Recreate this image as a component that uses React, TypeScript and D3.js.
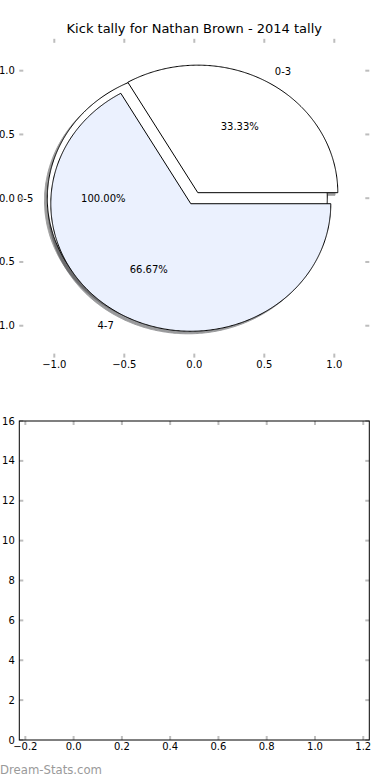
import React from "react";
import * as d3 from "d3";

// ---- data ----
const titleText = "Kick tally for Nathan Brown - 2014 tally";
const outerLabels = ["0-5"];
const outerValues = [1];
const outerColors = ["#ffffff"];
const outerExplode = [0.05];
const innerLabels = ["0-3", "4-7"];
const innerValues = [1, 2];
const innerColors = ["#ffffff", "#ebf1fe"];
const innerExplode = [0.05, 0.05];
const pieTicks = [-1, -0.5, 0, 0.5, 1];
const barXTicks = [-0.2, 0, 0.2, 0.4, 0.6, 0.8, 1.0, 1.2];
const barYTicks = [0, 2, 4, 6, 8, 10, 12, 14, 16];
const watermark = "Dream-Stats.com";

const FONT = "'DejaVu Sans', sans-serif";
const TICK_COLOR = "#bdbdbd";

const fmtTick = (v: number, digits: number) => {
  const s = Math.abs(v).toFixed(digits);
  return (v < 0 ? "\u2212" : "") + s;
};

type Wedge = {
  label: string;
  frac: number;
  t1: number;
  t2: number;
  cx: number;
  cy: number;
  color: string;
  full: boolean;
};

function buildWedges(labels: string[], values: number[], colors: string[], explode: number[]): Wedge[] {
  const total = d3.sum(values);
  const arcs = d3.pie<number>().sort(null).value((d) => d)(values);
  return arcs.map((a, i) => {
    const t1 = a.startAngle;
    const t2 = a.endAngle;
    const tm = (t1 + t2) / 2;
    return {
      label: labels[i],
      frac: values[i] / total,
      t1,
      t2,
      cx: explode[i] * Math.cos(tm),
      cy: explode[i] * Math.sin(tm),
      color: colors[i],
      full: Math.abs(t2 - t1 - 2 * Math.PI) < 1e-9,
    };
  });
}

export default function App() {
  const W = 390;
  const H = 780;

  // pie axes
  const sx = d3.scaleLinear().domain([-1.25, 1.25]).range([19.3, 369.3]);
  const sy = d3.scaleLinear().domain([-1.25, 1.25]).range([357.6, 38.8]);
  // empty bar axes
  const bx = d3.scaleLinear().domain([-0.225, 1.225]).range([19.3, 369.3]);
  const by = d3.scaleLinear().domain([0, 16]).range([740, 421]);

  const wedges = [
    ...buildWedges(outerLabels, outerValues, outerColors, outerExplode),
    ...buildWedges(innerLabels, innerValues, innerColors, innerExplode),
  ];

  const line = d3
    .line<[number, number]>()
    .x((d) => sx(d[0]))
    .y((d) => sy(d[1]));

  const wedgePath = (w: Wedge, ox = 0, oy = 0) => {
    const r = 1;
    const n = Math.max(8, Math.ceil(((w.t2 - w.t1) / (2 * Math.PI)) * 720));
    const pts: [number, number][] = [];
    const cx = w.cx + ox;
    const cy = w.cy + oy;
    if (!w.full) pts.push([cx, cy]);
    for (let i = 0; i <= n; i++) {
      const t = w.t1 + ((w.t2 - w.t1) * i) / n;
      pts.push([cx + r * Math.cos(t), cy + r * Math.sin(t)]);
    }
    return (line(pts) || "") + "Z";
  };

  const shadowColor = (c: string) => {
    const rgb = d3.rgb(c);
    return d3.rgb(rgb.r * 0.3, rgb.g * 0.3, rgb.b * 0.3).formatHex();
  };

  const labelDist = 1.1;
  const pctDist = 0.6;

  const pieFrame = { x0: sx(-1.25), x1: sx(1.25), y0: sy(1.25), y1: sy(-1.25) };
  const barFrame = { x0: bx(-0.225), x1: bx(1.225), y0: by(16), y1: by(0) };
  const TL = 4;

  return (
    <svg
      width={W}
      height={H}
      viewBox={`0 0 ${W} ${H}`}
      style={{ position: "absolute", left: 0, top: 0, background: "#fff" }}
      fontFamily={FONT}
    >
      <rect x={0} y={0} width={W} height={H} fill="#fff" />
      {/* title */}
      <text x={sx(0)} y={33} textAnchor="middle" fontSize={13} fill="#000">
        {titleText}
      </text>

      {/* shadows */}
      {wedges.map((w, i) => (
        <path
          key={"s" + i}
          d={wedgePath(w, -0.02, -0.02)}
          fill={shadowColor(w.color)}
          stroke={shadowColor(w.color)}
          strokeWidth={1}
          opacity={0.55}
        />
      ))}
      {/* wedges */}
      {wedges.map((w, i) => (
        <path key={"w" + i} d={wedgePath(w)} fill={w.color} stroke="#000" strokeWidth={1} strokeLinejoin="miter" />
      ))}
      {/* labels */}
      {wedges.map((w, i) => {
        const tm = (w.t1 + w.t2) / 2;
        const xt = w.cx + labelDist * Math.cos(tm);
        const yt = w.cy + labelDist * Math.sin(tm);
        const xp = w.cx + pctDist * Math.cos(tm);
        const yp = w.cy + pctDist * Math.sin(tm);
        return (
          <g key={"l" + i} fontSize={10} fill="#000">
            <text x={sx(xt)} y={sy(yt)} dy="0.35em" textAnchor={xt > 0 ? "start" : "end"}>
              {w.label}
            </text>
            <text x={sx(xp)} y={sy(yp)} dy="0.35em" textAnchor="middle">
              {d3.format(".2f")(w.frac * 100) + "%"}
            </text>
          </g>
        );
      })}

      {/* pie axes ticks (no frame) */}
      <g stroke={TICK_COLOR} strokeWidth={2}>
        {pieTicks.map((t, i) => (
          <g key={"pt" + i}>
            <line x1={sx(t)} x2={sx(t)} y1={pieFrame.y1} y2={pieFrame.y1 - TL} />
            <line x1={sx(t)} x2={sx(t)} y1={pieFrame.y0} y2={pieFrame.y0 + TL} />
            <line x1={pieFrame.x0} x2={pieFrame.x0 + TL} y1={sy(t)} y2={sy(t)} />
            <line x1={pieFrame.x1} x2={pieFrame.x1 - TL} y1={sy(t)} y2={sy(t)} />
          </g>
        ))}
      </g>
      <g fontSize={10} fill="#000">
        {pieTicks.map((t, i) => (
          <text key={"px" + i} x={sx(t)} y={pieFrame.y1 + 10} textAnchor="middle">
            {fmtTick(t, 1)}
          </text>
        ))}
        {pieTicks.map((t, i) => (
          <text key={"py" + i} x={pieFrame.x0 - 4.5} y={sy(t)} dy="0.35em" textAnchor="end">
            {fmtTick(t, 1)}
          </text>
        ))}
      </g>

      {/* empty axes */}
      <g stroke={TICK_COLOR} strokeWidth={2}>
        {barXTicks.map((t, i) => (
          <g key={"bt" + i}>
            <line x1={bx(t)} x2={bx(t)} y1={barFrame.y1} y2={barFrame.y1 - TL} />
            <line x1={bx(t)} x2={bx(t)} y1={barFrame.y0} y2={barFrame.y0 + TL} />
          </g>
        ))}
        {barYTicks.map((t, i) => (
          <g key={"by" + i}>
            <line x1={barFrame.x0} x2={barFrame.x0 + TL} y1={by(t)} y2={by(t)} />
            <line x1={barFrame.x1} x2={barFrame.x1 - TL} y1={by(t)} y2={by(t)} />
          </g>
        ))}
      </g>
      <rect
        x={barFrame.x0}
        y={barFrame.y0}
        width={barFrame.x1 - barFrame.x0}
        height={barFrame.y1 - barFrame.y0}
        fill="none"
        stroke="#000"
        strokeWidth={1}
      />
      <g fontSize={10} fill="#000">
        {barXTicks.map((t, i) => (
          <text key={"bxl" + i} x={bx(t)} y={barFrame.y1 + 10} textAnchor="middle">
            {fmtTick(t, 1)}
          </text>
        ))}
        {barYTicks.map((t, i) => (
          <text key={"byl" + i} x={barFrame.x0 - 4.5} y={by(t)} dy="0.35em" textAnchor="end">
            {String(t)}
          </text>
        ))}
      </g>

      {/* watermark */}
      <text x={0} y={774} fontSize={12} fill="#9a9a9a" textLength={102} lengthAdjust="spacingAndGlyphs">
        {watermark}
      </text>
    </svg>
  );
}
